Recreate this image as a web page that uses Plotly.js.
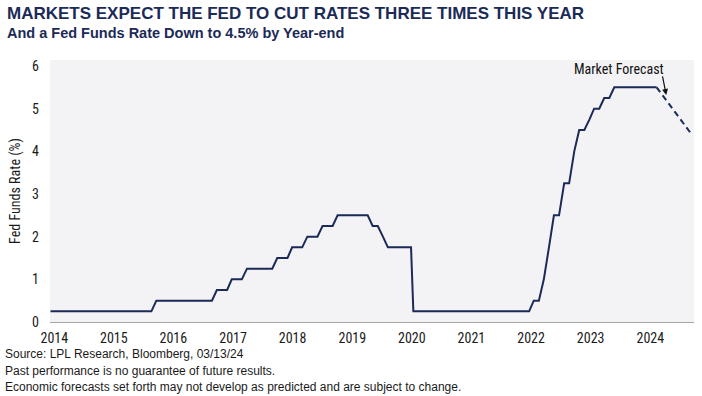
<!DOCTYPE html>
<html>
<head>
<meta charset="utf-8">
<script src="https://cdn.plot.ly/plotly-3.0.1.min.js"></script>
<style>
  html, body { margin: 0; padding: 0; background: #ffffff; }
  #chart { width: 702px; height: 396px; }
</style>
</head>
<body>
<div id="chart"></div>
<script>
// ---- Data ----
const histDates = [
  "2014-03-01","2015-11-01","2015-12-01","2016-11-01","2016-12-01","2017-02-01","2017-03-01",
  "2017-05-01","2017-06-01","2017-11-01","2017-12-01","2018-02-01","2018-03-01","2018-05-01",
  "2018-06-01","2018-08-01","2018-09-01","2018-11-01","2018-12-01","2019-06-01","2019-07-01",
  "2019-08-01","2019-09-01","2019-10-01","2020-02-18","2020-03-03","2022-02-01","2022-03-01",
  "2022-04-01","2022-05-01","2022-06-01","2022-07-01","2022-08-01","2022-09-01","2022-10-01",
  "2022-11-01","2022-12-01","2023-01-01","2023-02-01","2023-03-01","2023-04-01","2023-05-01",
  "2023-06-01","2023-07-01","2024-03-13"
];
const histRates = [
  0.25,0.25,0.50,0.50,0.75,0.75,1.00,
  1.00,1.25,1.25,1.50,1.50,1.75,1.75,
  2.00,2.00,2.25,2.25,2.50,2.50,2.25,
  2.25,2.00,1.75,1.75,0.25,0.25,0.50,
  0.50,1.00,1.75,2.50,2.50,3.25,3.25,
  4.00,4.50,4.50,4.75,5.00,5.00,5.25,
  5.25,5.50,5.50
];
const forecastDates = ["2024-03-13","2024-10-10"];
const forecastRates = [5.50, 4.40];

const yearLabels = ["2014","2015","2016","2017","2018","2019","2020","2021","2022","2023","2024"];
const yTicks = [0,1,2,3,4,5,6];

const titleText = "MARKETS EXPECT THE FED TO CUT RATES THREE TIMES THIS YEAR";
const subtitleText = "And a Fed Funds Rate Down to 4.5% by Year-end";
const yTitleText = "Fed Funds Rate (%)";
const forecastLabel = "Market Forecast";
const footerLines = [
  "Source: LPL Research, Bloomberg, 03/13/24",
  "Past performance is no guarantee of future results.",
  "Economic forecasts set forth may not develop as predicted and are subject to change."
];

// ---- Layout helpers ----
const W = 702, H = 396;
const M = { l: 50, r: 8, t: 60, b: 74 };
const PW = W - M.l - M.r, PH = H - M.t - M.b;
const px2x = px => (px - M.l) / PW;
const py2y = py => (H - M.b - py) / PH;

const NARROW = '"Liberation Sans Narrow", "Arial Narrow", "Roboto Condensed", "DejaVu Sans Condensed", sans-serif';
const ARIAL = '"Liberation Sans", Arial, sans-serif';
const NAVY = '#1b2a57';

// tick label positions (one label per year, spaced as in the reference)
const t0 = Date.UTC(2014, 2, 24);
const tickVals = yearLabels.map((_, i) => new Date(t0 + i * 360.4 * 86400000).toISOString().slice(0, 10));

const traces = [
  {
    x: histDates, y: histRates, type: 'scatter', mode: 'lines',
    line: { color: NAVY, width: 2 }, hoverinfo: 'skip', showlegend: false
  },
  {
    x: forecastDates, y: forecastRates, type: 'scatter', mode: 'lines',
    line: { color: NAVY, width: 2, dash: '6px,4px' }, hoverinfo: 'skip', showlegend: false
  }
];

const annotations = [
  { text: '<b>' + titleText + '</b>', xref: 'paper', yref: 'paper', x: px2x(5), y: py2y(13),
    xanchor: 'left', yanchor: 'middle', showarrow: false, font: { family: ARIAL, size: 17, color: NAVY } },
  { text: '<b>' + subtitleText + '</b>', xref: 'paper', yref: 'paper', x: px2x(5), y: py2y(33),
    xanchor: 'left', yanchor: 'middle', showarrow: false, font: { family: ARIAL, size: 14.5, color: NAVY } },
  { text: forecastLabel, xref: 'paper', yref: 'paper', x: px2x(618.5), y: py2y(69),
    xanchor: 'center', yanchor: 'middle', showarrow: false, font: { family: NARROW, size: 14, color: '#111111' } },
  { text: '', x: '2024-05-10', y: 5.32, xref: 'x', yref: 'y', ax: -4, ay: -20, axref: 'pixel', ayref: 'pixel',
    showarrow: true, arrowhead: 2, arrowsize: 1, arrowwidth: 1.2, arrowcolor: '#111111' }
];
footerLines.forEach((t, i) => {
  annotations.push({ text: t, xref: 'paper', yref: 'paper', x: px2x(3), y: py2y(354 + i * 16.5),
    xanchor: 'left', yanchor: 'middle', showarrow: false, font: { family: ARIAL, size: 12, color: '#1a1a1a' } });
});

const layout = {
  width: W, height: H,
  margin: M,
  paper_bgcolor: '#ffffff',
  plot_bgcolor: '#f3f3f6',
  showlegend: false,
  xaxis: {
    type: 'date',
    range: ['2014-02-26', '2024-10-25'],
    tickmode: 'array', tickvals: tickVals, ticktext: yearLabels,
    ticks: '', showgrid: false, zeroline: false,
    showline: true, linecolor: '#a6a6a6', linewidth: 1,
    tickfont: { family: NARROW, size: 14, color: '#1a1a1a' },
    ticklabelstandoff: 3,
    fixedrange: true
  },
  yaxis: {
    range: [0, 6.14],
    tickmode: 'array', tickvals: yTicks, ticktext: yTicks.map(String),
    ticks: '', showgrid: false, zeroline: false, showline: false,
    tickfont: { family: NARROW, size: 14, color: '#1a1a1a' },
    ticklabelstandoff: 10,
    title: { text: yTitleText, font: { family: NARROW, size: 14, color: '#1a1a1a' }, standoff: 8 },
    fixedrange: true
  },
  annotations: annotations
};

Plotly.newPlot('chart', traces, layout, { staticPlot: true, displayModeBar: false });
</script>
</body>
</html>
